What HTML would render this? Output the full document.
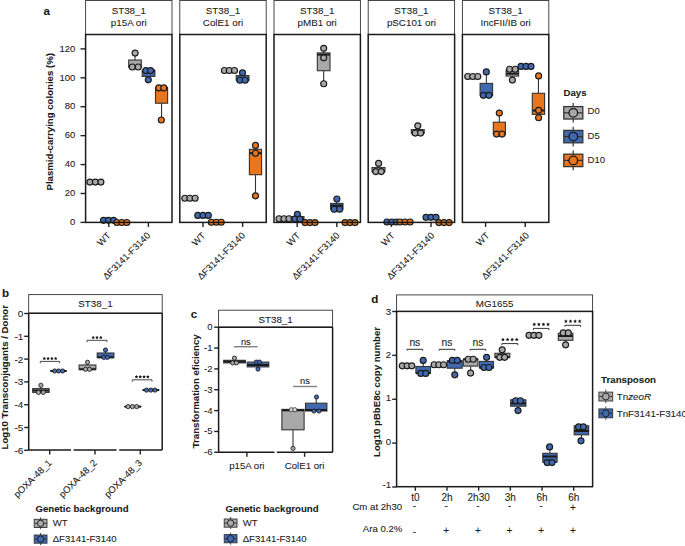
<!DOCTYPE html>
<html><head><meta charset="utf-8"><style>
html,body{margin:0;padding:0;background:#fff;width:685px;height:546px;overflow:hidden}
svg{display:block}
text{font-family:"Liberation Sans", sans-serif;stroke:#1a1a1a;stroke-width:0.08px}
</style></head><body>
<svg width="685" height="546" viewBox="0 0 685 546" font-family='"Liberation Sans", sans-serif'>
<rect x="0" y="0" width="685" height="546" fill="#fff"/>
<text x="43.6" y="15.2" font-size="11.6" text-anchor="start" font-weight="bold" fill="#1a1a1a" >a</text>
<rect x="85.6" y="0.5" width="86.4" height="34.0" fill="#fff" stroke="#333" stroke-width="0.9"/>
<text x="128.8" y="14.4" font-size="9.8" text-anchor="middle" font-weight="normal" fill="#1a1a1a" >ST38_1</text>
<text x="128.8" y="26.4" font-size="9.8" text-anchor="middle" font-weight="normal" fill="#1a1a1a" >p15A ori</text>
<line x1="108.8" y1="222.4" x2="108.8" y2="226.9" stroke="#222" stroke-width="1.4"/>
<line x1="148.39999999999998" y1="222.4" x2="148.39999999999998" y2="226.9" stroke="#222" stroke-width="1.4"/>
<text transform="translate(111.3,236.1) rotate(-45)" font-size="9.4" text-anchor="end" fill="#1a1a1a">WT</text>
<text transform="translate(150.89999999999998,236.1) rotate(-45)" font-size="9.4" text-anchor="end" fill="#1a1a1a">&#916;F3141-F3140</text>
<rect x="179.8" y="0.5" width="86.4" height="34.0" fill="#fff" stroke="#333" stroke-width="0.9"/>
<text x="223.0" y="14.4" font-size="9.8" text-anchor="middle" font-weight="normal" fill="#1a1a1a" >ST38_1</text>
<text x="223.0" y="26.4" font-size="9.8" text-anchor="middle" font-weight="normal" fill="#1a1a1a" >ColE1 ori</text>
<line x1="203.0" y1="222.4" x2="203.0" y2="226.9" stroke="#222" stroke-width="1.4"/>
<line x1="242.60000000000002" y1="222.4" x2="242.60000000000002" y2="226.9" stroke="#222" stroke-width="1.4"/>
<text transform="translate(206.0,236.1) rotate(-45)" font-size="9.4" text-anchor="end" fill="#1a1a1a">WT</text>
<text transform="translate(245.60000000000002,236.1) rotate(-45)" font-size="9.4" text-anchor="end" fill="#1a1a1a">&#916;F3141-F3140</text>
<rect x="274.0" y="0.5" width="86.4" height="34.0" fill="#fff" stroke="#333" stroke-width="0.9"/>
<text x="317.2" y="14.4" font-size="9.8" text-anchor="middle" font-weight="normal" fill="#1a1a1a" >ST38_1</text>
<text x="317.2" y="26.4" font-size="9.8" text-anchor="middle" font-weight="normal" fill="#1a1a1a" >pMB1 ori</text>
<line x1="297.2" y1="222.4" x2="297.2" y2="226.9" stroke="#222" stroke-width="1.4"/>
<line x1="336.8" y1="222.4" x2="336.8" y2="226.9" stroke="#222" stroke-width="1.4"/>
<text transform="translate(300.7,236.1) rotate(-45)" font-size="9.4" text-anchor="end" fill="#1a1a1a">WT</text>
<text transform="translate(340.3,236.1) rotate(-45)" font-size="9.4" text-anchor="end" fill="#1a1a1a">&#916;F3141-F3140</text>
<rect x="368.2" y="0.5" width="86.4" height="34.0" fill="#fff" stroke="#333" stroke-width="0.9"/>
<text x="411.4" y="14.4" font-size="9.8" text-anchor="middle" font-weight="normal" fill="#1a1a1a" >ST38_1</text>
<text x="411.4" y="26.4" font-size="9.8" text-anchor="middle" font-weight="normal" fill="#1a1a1a" >pSC101 ori</text>
<line x1="391.4" y1="222.4" x2="391.4" y2="226.9" stroke="#222" stroke-width="1.4"/>
<line x1="431.0" y1="222.4" x2="431.0" y2="226.9" stroke="#222" stroke-width="1.4"/>
<text transform="translate(395.4,236.1) rotate(-45)" font-size="9.4" text-anchor="end" fill="#1a1a1a">WT</text>
<text transform="translate(435.0,236.1) rotate(-45)" font-size="9.4" text-anchor="end" fill="#1a1a1a">&#916;F3141-F3140</text>
<rect x="462.4" y="0.5" width="86.4" height="34.0" fill="#fff" stroke="#333" stroke-width="0.9"/>
<text x="505.59999999999997" y="14.4" font-size="9.8" text-anchor="middle" font-weight="normal" fill="#1a1a1a" >ST38_1</text>
<text x="505.59999999999997" y="26.4" font-size="9.8" text-anchor="middle" font-weight="normal" fill="#1a1a1a" >IncFII/IB ori</text>
<line x1="485.59999999999997" y1="222.4" x2="485.59999999999997" y2="226.9" stroke="#222" stroke-width="1.4"/>
<line x1="525.1999999999999" y1="222.4" x2="525.1999999999999" y2="226.9" stroke="#222" stroke-width="1.4"/>
<text transform="translate(490.09999999999997,236.1) rotate(-45)" font-size="9.4" text-anchor="end" fill="#1a1a1a">WT</text>
<text transform="translate(529.6999999999999,236.1) rotate(-45)" font-size="9.4" text-anchor="end" fill="#1a1a1a">&#916;F3141-F3140</text>
<line x1="80.5" y1="222.4" x2="85.6" y2="222.4" stroke="#222" stroke-width="1.4"/>
<text x="75.3" y="225.1" font-size="9.5" text-anchor="end" font-weight="normal" fill="#1a1a1a" >0</text>
<line x1="80.5" y1="193.48000000000002" x2="85.6" y2="193.48000000000002" stroke="#222" stroke-width="1.4"/>
<text x="75.3" y="196.18" font-size="9.5" text-anchor="end" font-weight="normal" fill="#1a1a1a" >20</text>
<line x1="80.5" y1="164.56" x2="85.6" y2="164.56" stroke="#222" stroke-width="1.4"/>
<text x="75.3" y="167.26" font-size="9.5" text-anchor="end" font-weight="normal" fill="#1a1a1a" >40</text>
<line x1="80.5" y1="135.64000000000001" x2="85.6" y2="135.64000000000001" stroke="#222" stroke-width="1.4"/>
<text x="75.3" y="138.34" font-size="9.5" text-anchor="end" font-weight="normal" fill="#1a1a1a" >60</text>
<line x1="80.5" y1="106.72000000000001" x2="85.6" y2="106.72000000000001" stroke="#222" stroke-width="1.4"/>
<text x="75.3" y="109.42000000000002" font-size="9.5" text-anchor="end" font-weight="normal" fill="#1a1a1a" >80</text>
<line x1="80.5" y1="77.80000000000001" x2="85.6" y2="77.80000000000001" stroke="#222" stroke-width="1.4"/>
<text x="75.3" y="80.50000000000001" font-size="9.5" text-anchor="end" font-weight="normal" fill="#1a1a1a" >100</text>
<line x1="80.5" y1="48.880000000000024" x2="85.6" y2="48.880000000000024" stroke="#222" stroke-width="1.4"/>
<text x="75.3" y="51.58000000000003" font-size="9.5" text-anchor="end" font-weight="normal" fill="#1a1a1a" >120</text>
<text transform="translate(52.5,121.8) rotate(-90)" font-size="9.65" font-weight="bold" text-anchor="middle" fill="#1a1a1a">Plasmid-carrying colonies (%)</text>
<circle cx="89.9" cy="182.1" r="3.0" fill="#a9a9a9" stroke="#1a1a1a" stroke-width="1.15"/>
<circle cx="95.4" cy="182.1" r="3.0" fill="#a9a9a9" stroke="#1a1a1a" stroke-width="1.15"/>
<circle cx="100.9" cy="182.1" r="3.0" fill="#a9a9a9" stroke="#1a1a1a" stroke-width="1.15"/>
<circle cx="103.5" cy="220.3" r="3.0" fill="#4169b0" stroke="#1a1a1a" stroke-width="1.15"/>
<circle cx="108.4" cy="220.3" r="3.0" fill="#4169b0" stroke="#1a1a1a" stroke-width="1.15"/>
<circle cx="113.6" cy="220.3" r="3.0" fill="#4169b0" stroke="#1a1a1a" stroke-width="1.15"/>
<circle cx="116.9" cy="222.5" r="3.0" fill="#e8761e" stroke="#1a1a1a" stroke-width="1.15"/>
<circle cx="121.8" cy="222.5" r="3.0" fill="#e8761e" stroke="#1a1a1a" stroke-width="1.15"/>
<circle cx="126.8" cy="222.5" r="3.0" fill="#e8761e" stroke="#1a1a1a" stroke-width="1.15"/>
<line x1="135.0" y1="53.1" x2="135.0" y2="60" stroke="#333" stroke-width="1.1"/>
<rect x="128.7" y="60" width="12.600000000000023" height="7" fill="#a9a9a9" stroke="#333" stroke-width="1.1"/>
<line x1="128.7" y1="67" x2="141.3" y2="67" stroke="#1a1a1a" stroke-width="2.0"/>
<circle cx="135.1" cy="53.1" r="3.0" fill="#a9a9a9" stroke="#1a1a1a" stroke-width="1.15"/>
<circle cx="132.3" cy="67" r="3.0" fill="#a9a9a9" stroke="#1a1a1a" stroke-width="1.15"/>
<circle cx="138.2" cy="67" r="3.0" fill="#a9a9a9" stroke="#1a1a1a" stroke-width="1.15"/>
<line x1="148.55" y1="76.4" x2="148.55" y2="79.7" stroke="#333" stroke-width="1.1"/>
<rect x="142.2" y="70.4" width="12.700000000000017" height="6.0" fill="#4169b0" stroke="#333" stroke-width="1.1"/>
<line x1="142.2" y1="70.5" x2="154.9" y2="70.5" stroke="#1a1a1a" stroke-width="2.0"/>
<circle cx="145.9" cy="70.6" r="3.0" fill="#4169b0" stroke="#1a1a1a" stroke-width="1.15"/>
<circle cx="150.6" cy="70.6" r="3.0" fill="#4169b0" stroke="#1a1a1a" stroke-width="1.15"/>
<circle cx="148.3" cy="79.8" r="3.0" fill="#4169b0" stroke="#1a1a1a" stroke-width="1.15"/>
<line x1="161.55" y1="103.2" x2="161.55" y2="120" stroke="#333" stroke-width="1.1"/>
<rect x="155.5" y="87.5" width="12.099999999999994" height="15.700000000000003" fill="#e8761e" stroke="#333" stroke-width="1.1"/>
<line x1="155.5" y1="87.8" x2="167.6" y2="87.8" stroke="#1a1a1a" stroke-width="2.0"/>
<circle cx="158.8" cy="87.9" r="3.0" fill="#e8761e" stroke="#1a1a1a" stroke-width="1.15"/>
<circle cx="163.8" cy="87.9" r="3.0" fill="#e8761e" stroke="#1a1a1a" stroke-width="1.15"/>
<circle cx="161.3" cy="120" r="3.0" fill="#e8761e" stroke="#1a1a1a" stroke-width="1.15"/>
<circle cx="184.8" cy="198.2" r="3.0" fill="#a9a9a9" stroke="#1a1a1a" stroke-width="1.15"/>
<circle cx="189.9" cy="198.2" r="3.0" fill="#a9a9a9" stroke="#1a1a1a" stroke-width="1.15"/>
<circle cx="195.1" cy="198.2" r="3.0" fill="#a9a9a9" stroke="#1a1a1a" stroke-width="1.15"/>
<circle cx="197.8" cy="215.4" r="3.0" fill="#4169b0" stroke="#1a1a1a" stroke-width="1.15"/>
<circle cx="203" cy="215.4" r="3.0" fill="#4169b0" stroke="#1a1a1a" stroke-width="1.15"/>
<circle cx="208.3" cy="215.4" r="3.0" fill="#4169b0" stroke="#1a1a1a" stroke-width="1.15"/>
<circle cx="211.3" cy="222.2" r="3.0" fill="#e8761e" stroke="#1a1a1a" stroke-width="1.15"/>
<circle cx="216.3" cy="222.2" r="3.0" fill="#e8761e" stroke="#1a1a1a" stroke-width="1.15"/>
<circle cx="221.2" cy="222.2" r="3.0" fill="#e8761e" stroke="#1a1a1a" stroke-width="1.15"/>
<circle cx="224.4" cy="70.5" r="3.0" fill="#a9a9a9" stroke="#1a1a1a" stroke-width="1.15"/>
<circle cx="229.3" cy="70.5" r="3.0" fill="#a9a9a9" stroke="#1a1a1a" stroke-width="1.15"/>
<circle cx="234.5" cy="70.5" r="3.0" fill="#a9a9a9" stroke="#1a1a1a" stroke-width="1.15"/>
<line x1="242.6" y1="72.9" x2="242.6" y2="75.6" stroke="#333" stroke-width="1.1"/>
<rect x="236.2" y="75.6" width="12.800000000000011" height="4.700000000000003" fill="#4169b0" stroke="#333" stroke-width="1.1"/>
<line x1="236.2" y1="80.3" x2="249" y2="80.3" stroke="#1a1a1a" stroke-width="2.0"/>
<circle cx="242.5" cy="72.8" r="3.0" fill="#4169b0" stroke="#1a1a1a" stroke-width="1.15"/>
<circle cx="239.9" cy="80.2" r="3.0" fill="#4169b0" stroke="#1a1a1a" stroke-width="1.15"/>
<circle cx="245.1" cy="80.2" r="3.0" fill="#4169b0" stroke="#1a1a1a" stroke-width="1.15"/>
<line x1="255.5" y1="174.7" x2="255.5" y2="195.8" stroke="#333" stroke-width="1.1"/>
<rect x="249.4" y="149.3" width="12.200000000000017" height="25.399999999999977" fill="#e8761e" stroke="#333" stroke-width="1.1"/>
<line x1="249.4" y1="153.2" x2="261.6" y2="153.2" stroke="#1a1a1a" stroke-width="2.0"/>
<circle cx="255.5" cy="145.4" r="3.0" fill="#e8761e" stroke="#1a1a1a" stroke-width="1.15"/>
<circle cx="255.5" cy="153.2" r="3.0" fill="#e8761e" stroke="#1a1a1a" stroke-width="1.15"/>
<circle cx="255.5" cy="195.8" r="3.0" fill="#e8761e" stroke="#1a1a1a" stroke-width="1.15"/>
<circle cx="279" cy="218.7" r="3.0" fill="#a9a9a9" stroke="#1a1a1a" stroke-width="1.15"/>
<circle cx="284" cy="218.7" r="3.0" fill="#a9a9a9" stroke="#1a1a1a" stroke-width="1.15"/>
<circle cx="289" cy="218.7" r="3.0" fill="#a9a9a9" stroke="#1a1a1a" stroke-width="1.15"/>
<line x1="297.5" y1="214.3" x2="297.5" y2="216.6" stroke="#333" stroke-width="1.1"/>
<rect x="291" y="216.6" width="13" height="2.5" fill="#4169b0" stroke="#333" stroke-width="1.1"/>
<line x1="291" y1="219.1" x2="304" y2="219.1" stroke="#1a1a1a" stroke-width="2.0"/>
<circle cx="297.4" cy="214.3" r="3.0" fill="#4169b0" stroke="#1a1a1a" stroke-width="1.15"/>
<circle cx="294.8" cy="219.1" r="3.0" fill="#4169b0" stroke="#1a1a1a" stroke-width="1.15"/>
<circle cx="299.9" cy="219.1" r="3.0" fill="#4169b0" stroke="#1a1a1a" stroke-width="1.15"/>
<circle cx="305" cy="222.6" r="3.0" fill="#e8761e" stroke="#1a1a1a" stroke-width="1.15"/>
<circle cx="310" cy="222.6" r="3.0" fill="#e8761e" stroke="#1a1a1a" stroke-width="1.15"/>
<circle cx="315" cy="222.6" r="3.0" fill="#e8761e" stroke="#1a1a1a" stroke-width="1.15"/>
<line x1="323.65" y1="48.3" x2="323.65" y2="52.9" stroke="#333" stroke-width="1.1"/>
<line x1="323.65" y1="70.7" x2="323.65" y2="83.7" stroke="#333" stroke-width="1.1"/>
<rect x="317.3" y="52.9" width="12.699999999999989" height="17.800000000000004" fill="#a9a9a9" stroke="#333" stroke-width="1.1"/>
<line x1="317.3" y1="54.6" x2="330" y2="54.6" stroke="#1a1a1a" stroke-width="2.0"/>
<circle cx="323.7" cy="48.3" r="3.0" fill="#a9a9a9" stroke="#1a1a1a" stroke-width="1.15"/>
<circle cx="323.7" cy="57.8" r="3.0" fill="#a9a9a9" stroke="#1a1a1a" stroke-width="1.15"/>
<circle cx="323.7" cy="83.7" r="3.0" fill="#a9a9a9" stroke="#1a1a1a" stroke-width="1.15"/>
<line x1="336.8" y1="199" x2="336.8" y2="203.4" stroke="#333" stroke-width="1.1"/>
<rect x="330.6" y="203.4" width="12.399999999999977" height="5.799999999999983" fill="#4169b0" stroke="#333" stroke-width="1.1"/>
<line x1="330.6" y1="205.6" x2="343" y2="205.6" stroke="#1a1a1a" stroke-width="2.0"/>
<circle cx="336.9" cy="199" r="3.0" fill="#4169b0" stroke="#1a1a1a" stroke-width="1.15"/>
<circle cx="334.2" cy="209.2" r="3.0" fill="#4169b0" stroke="#1a1a1a" stroke-width="1.15"/>
<circle cx="339.6" cy="209.2" r="3.0" fill="#4169b0" stroke="#1a1a1a" stroke-width="1.15"/>
<circle cx="345" cy="222.6" r="3.0" fill="#e8761e" stroke="#1a1a1a" stroke-width="1.15"/>
<circle cx="350" cy="222.6" r="3.0" fill="#e8761e" stroke="#1a1a1a" stroke-width="1.15"/>
<circle cx="355" cy="222.6" r="3.0" fill="#e8761e" stroke="#1a1a1a" stroke-width="1.15"/>
<line x1="378.5" y1="163.4" x2="378.5" y2="167.6" stroke="#333" stroke-width="1.1"/>
<rect x="372" y="167.6" width="13" height="4.0" fill="#a9a9a9" stroke="#333" stroke-width="1.1"/>
<line x1="372" y1="171.6" x2="385" y2="171.6" stroke="#1a1a1a" stroke-width="2.0"/>
<circle cx="378.6" cy="163.4" r="3.0" fill="#a9a9a9" stroke="#1a1a1a" stroke-width="1.15"/>
<circle cx="375.8" cy="171.6" r="3.0" fill="#a9a9a9" stroke="#1a1a1a" stroke-width="1.15"/>
<circle cx="381.2" cy="171.6" r="3.0" fill="#a9a9a9" stroke="#1a1a1a" stroke-width="1.15"/>
<circle cx="386.9" cy="222.0" r="3.0" fill="#4169b0" stroke="#1a1a1a" stroke-width="1.15"/>
<circle cx="391.7" cy="222.0" r="3.0" fill="#4169b0" stroke="#1a1a1a" stroke-width="1.15"/>
<circle cx="396.4" cy="222.0" r="3.0" fill="#4169b0" stroke="#1a1a1a" stroke-width="1.15"/>
<circle cx="400" cy="222.0" r="3.0" fill="#e8761e" stroke="#1a1a1a" stroke-width="1.15"/>
<circle cx="405" cy="222.0" r="3.0" fill="#e8761e" stroke="#1a1a1a" stroke-width="1.15"/>
<circle cx="410.1" cy="222.0" r="3.0" fill="#e8761e" stroke="#1a1a1a" stroke-width="1.15"/>
<line x1="417.75" y1="125.8" x2="417.75" y2="129.6" stroke="#333" stroke-width="1.1"/>
<rect x="411.3" y="129.6" width="12.899999999999977" height="3.5" fill="#a9a9a9" stroke="#333" stroke-width="1.1"/>
<line x1="411.3" y1="133.1" x2="424.2" y2="133.1" stroke="#1a1a1a" stroke-width="2.0"/>
<circle cx="417.8" cy="125.8" r="3.0" fill="#a9a9a9" stroke="#1a1a1a" stroke-width="1.15"/>
<circle cx="415.2" cy="133.1" r="3.0" fill="#a9a9a9" stroke="#1a1a1a" stroke-width="1.15"/>
<circle cx="420.6" cy="133.1" r="3.0" fill="#a9a9a9" stroke="#1a1a1a" stroke-width="1.15"/>
<circle cx="426" cy="217.3" r="3.0" fill="#4169b0" stroke="#1a1a1a" stroke-width="1.15"/>
<circle cx="431" cy="217.3" r="3.0" fill="#4169b0" stroke="#1a1a1a" stroke-width="1.15"/>
<circle cx="436" cy="217.3" r="3.0" fill="#4169b0" stroke="#1a1a1a" stroke-width="1.15"/>
<circle cx="438.9" cy="222.6" r="3.0" fill="#e8761e" stroke="#1a1a1a" stroke-width="1.15"/>
<circle cx="444" cy="222.6" r="3.0" fill="#e8761e" stroke="#1a1a1a" stroke-width="1.15"/>
<circle cx="449.1" cy="222.6" r="3.0" fill="#e8761e" stroke="#1a1a1a" stroke-width="1.15"/>
<circle cx="467.7" cy="76.5" r="3.0" fill="#a9a9a9" stroke="#1a1a1a" stroke-width="1.15"/>
<circle cx="472.8" cy="76.5" r="3.0" fill="#a9a9a9" stroke="#1a1a1a" stroke-width="1.15"/>
<circle cx="477.8" cy="76.5" r="3.0" fill="#a9a9a9" stroke="#1a1a1a" stroke-width="1.15"/>
<line x1="486.35" y1="71.9" x2="486.35" y2="83.4" stroke="#333" stroke-width="1.1"/>
<rect x="480.1" y="83.4" width="12.5" height="12.099999999999994" fill="#4169b0" stroke="#333" stroke-width="1.1"/>
<line x1="480.1" y1="95.5" x2="492.6" y2="95.5" stroke="#1a1a1a" stroke-width="2.0"/>
<circle cx="486.3" cy="71.9" r="3.0" fill="#4169b0" stroke="#1a1a1a" stroke-width="1.15"/>
<circle cx="483.4" cy="95.3" r="3.0" fill="#4169b0" stroke="#1a1a1a" stroke-width="1.15"/>
<circle cx="488.9" cy="95.3" r="3.0" fill="#4169b0" stroke="#1a1a1a" stroke-width="1.15"/>
<line x1="499.35" y1="113.1" x2="499.35" y2="122.2" stroke="#333" stroke-width="1.1"/>
<rect x="493.3" y="122.2" width="12.099999999999966" height="12.200000000000003" fill="#e8761e" stroke="#333" stroke-width="1.1"/>
<line x1="493.3" y1="134.4" x2="505.4" y2="134.4" stroke="#1a1a1a" stroke-width="2.0"/>
<circle cx="499.3" cy="113.1" r="3.0" fill="#e8761e" stroke="#1a1a1a" stroke-width="1.15"/>
<circle cx="496.6" cy="134.1" r="3.0" fill="#e8761e" stroke="#1a1a1a" stroke-width="1.15"/>
<circle cx="502" cy="134.1" r="3.0" fill="#e8761e" stroke="#1a1a1a" stroke-width="1.15"/>
<line x1="512.35" y1="76.1" x2="512.35" y2="80.1" stroke="#333" stroke-width="1.1"/>
<rect x="506.1" y="70.0" width="12.5" height="6.099999999999994" fill="#a9a9a9" stroke="#333" stroke-width="1.1"/>
<line x1="506.1" y1="73.7" x2="518.6" y2="73.7" stroke="#1a1a1a" stroke-width="2.0"/>
<circle cx="509.6" cy="69.2" r="3.0" fill="#a9a9a9" stroke="#1a1a1a" stroke-width="1.15"/>
<circle cx="515.2" cy="69.2" r="3.0" fill="#a9a9a9" stroke="#1a1a1a" stroke-width="1.15"/>
<circle cx="512.4" cy="80.1" r="3.0" fill="#a9a9a9" stroke="#1a1a1a" stroke-width="1.15"/>
<circle cx="521" cy="66.4" r="3.0" fill="#4169b0" stroke="#1a1a1a" stroke-width="1.15"/>
<circle cx="526" cy="66.4" r="3.0" fill="#4169b0" stroke="#1a1a1a" stroke-width="1.15"/>
<circle cx="531" cy="66.4" r="3.0" fill="#4169b0" stroke="#1a1a1a" stroke-width="1.15"/>
<line x1="538.45" y1="75.9" x2="538.45" y2="93.3" stroke="#333" stroke-width="1.1"/>
<line x1="538.45" y1="114.4" x2="538.45" y2="117.7" stroke="#333" stroke-width="1.1"/>
<rect x="532.3" y="93.3" width="12.300000000000068" height="21.10000000000001" fill="#e8761e" stroke="#333" stroke-width="1.1"/>
<line x1="532.3" y1="110.5" x2="544.6" y2="110.5" stroke="#1a1a1a" stroke-width="2.0"/>
<circle cx="538.6" cy="75.9" r="3.0" fill="#e8761e" stroke="#1a1a1a" stroke-width="1.15"/>
<circle cx="538.6" cy="110.3" r="3.0" fill="#e8761e" stroke="#1a1a1a" stroke-width="1.15"/>
<circle cx="538.6" cy="117.7" r="3.0" fill="#e8761e" stroke="#1a1a1a" stroke-width="1.15"/>
<rect x="85.6" y="34.5" width="86.4" height="187.9" fill="none" stroke="#1a1a1a" stroke-width="1.5"/>
<rect x="179.8" y="34.5" width="86.4" height="187.9" fill="none" stroke="#1a1a1a" stroke-width="1.5"/>
<rect x="274.0" y="34.5" width="86.4" height="187.9" fill="none" stroke="#1a1a1a" stroke-width="1.5"/>
<rect x="368.2" y="34.5" width="86.4" height="187.9" fill="none" stroke="#1a1a1a" stroke-width="1.5"/>
<rect x="462.4" y="34.5" width="86.4" height="187.9" fill="none" stroke="#1a1a1a" stroke-width="1.5"/>
<text x="563.6" y="96.4" font-size="9.6" text-anchor="start" font-weight="bold" fill="#1a1a1a" >Days</text>
<line x1="573.2" y1="102.89999999999999" x2="573.2" y2="122.6" stroke="#333" stroke-width="1.2"/>
<rect x="563.8" y="106.6" width="19" height="12.4" fill="#a9a9a9" stroke="#333" stroke-width="1.3"/>
<line x1="563.8" y1="112.8" x2="582.8" y2="112.8" stroke="#333" stroke-width="1.2"/>
<circle cx="573.3" cy="112.8" r="4.3" fill="#a9a9a9" stroke="#1a1a1a" stroke-width="1.25"/>
<text x="587.6" y="114.1" font-size="9.5" text-anchor="start" font-weight="normal" fill="#1a1a1a" >D0</text>
<line x1="573.2" y1="126.7" x2="573.2" y2="146.4" stroke="#333" stroke-width="1.2"/>
<rect x="563.8" y="130.4" width="19" height="12.4" fill="#4169b0" stroke="#333" stroke-width="1.3"/>
<line x1="563.8" y1="136.6" x2="582.8" y2="136.6" stroke="#333" stroke-width="1.2"/>
<circle cx="573.3" cy="136.6" r="4.3" fill="#4169b0" stroke="#1a1a1a" stroke-width="1.25"/>
<text x="587.6" y="138.70000000000002" font-size="9.5" text-anchor="start" font-weight="normal" fill="#1a1a1a" >D5</text>
<line x1="573.2" y1="150.5" x2="573.2" y2="170.2" stroke="#333" stroke-width="1.2"/>
<rect x="563.8" y="154.2" width="19" height="12.4" fill="#e8761e" stroke="#333" stroke-width="1.3"/>
<line x1="563.8" y1="160.39999999999998" x2="582.8" y2="160.39999999999998" stroke="#333" stroke-width="1.2"/>
<circle cx="573.3" cy="160.39999999999998" r="4.3" fill="#e8761e" stroke="#1a1a1a" stroke-width="1.25"/>
<text x="587.6" y="163.3" font-size="9.5" text-anchor="start" font-weight="normal" fill="#1a1a1a" >D10</text>
<text x="1.9" y="297.3" font-size="11.6" text-anchor="start" font-weight="bold" fill="#1a1a1a" >b</text>
<rect x="28.7" y="294.6" width="133.5" height="18.69999999999999" fill="#fff" stroke="#333" stroke-width="0.9"/>
<text x="95.44999999999999" y="307.0" font-size="9.8" text-anchor="middle" font-weight="normal" fill="#1a1a1a" >ST38_1</text>
<line x1="24.2" y1="313.5" x2="28.7" y2="313.5" stroke="#222" stroke-width="1.4"/>
<text x="23.2" y="317.0" font-size="9.9" text-anchor="end" font-weight="normal" fill="#1a1a1a" >0</text>
<line x1="24.2" y1="336.3" x2="28.7" y2="336.3" stroke="#222" stroke-width="1.4"/>
<text x="23.2" y="339.8" font-size="9.9" text-anchor="end" font-weight="normal" fill="#1a1a1a" >-1</text>
<line x1="24.2" y1="359.1" x2="28.7" y2="359.1" stroke="#222" stroke-width="1.4"/>
<text x="23.2" y="362.6" font-size="9.9" text-anchor="end" font-weight="normal" fill="#1a1a1a" >-2</text>
<line x1="24.2" y1="381.9" x2="28.7" y2="381.9" stroke="#222" stroke-width="1.4"/>
<text x="23.2" y="385.4" font-size="9.9" text-anchor="end" font-weight="normal" fill="#1a1a1a" >-3</text>
<line x1="24.2" y1="404.7" x2="28.7" y2="404.7" stroke="#222" stroke-width="1.4"/>
<text x="23.2" y="408.2" font-size="9.9" text-anchor="end" font-weight="normal" fill="#1a1a1a" >-4</text>
<line x1="24.2" y1="427.5" x2="28.7" y2="427.5" stroke="#222" stroke-width="1.4"/>
<text x="23.2" y="431.0" font-size="9.9" text-anchor="end" font-weight="normal" fill="#1a1a1a" >-5</text>
<line x1="24.2" y1="450.3" x2="28.7" y2="450.3" stroke="#222" stroke-width="1.4"/>
<text x="23.2" y="453.8" font-size="9.9" text-anchor="end" font-weight="normal" fill="#1a1a1a" >-6</text>
<text transform="translate(7.6,377.3) rotate(-90)" font-size="9.65" font-weight="bold" text-anchor="middle" fill="#1a1a1a">Log10 Transconjugants / Donor</text>
<line x1="40.900000000000006" y1="385.3" x2="40.900000000000006" y2="388.6" stroke="#333" stroke-width="1.1"/>
<rect x="32.7" y="388.6" width="16.4" height="3.7999999999999545" fill="#a9a9a9" stroke="#333" stroke-width="1.1"/>
<line x1="32.7" y1="390.5" x2="49.1" y2="390.5" stroke="#1a1a1a" stroke-width="2.0"/>
<circle cx="40.9" cy="385.3" r="2.1" fill="#a9a9a9" stroke="#1a1a1a" stroke-width="0.85"/>
<circle cx="38.5" cy="392.4" r="2.1" fill="#a9a9a9" stroke="#1a1a1a" stroke-width="0.85"/>
<circle cx="43.3" cy="392.4" r="2.1" fill="#a9a9a9" stroke="#1a1a1a" stroke-width="0.85"/>
<rect x="50.5" y="371" width="16.0" height="0.01" fill="#4169b0" stroke="#333" stroke-width="1.1"/>
<line x1="50.5" y1="371" x2="66.5" y2="371" stroke="#1a1a1a" stroke-width="2.0"/>
<circle cx="54.6" cy="371" r="2.1" fill="#4169b0" stroke="#1a1a1a" stroke-width="0.85"/>
<circle cx="58.6" cy="371" r="2.1" fill="#4169b0" stroke="#1a1a1a" stroke-width="0.85"/>
<circle cx="62.6" cy="371" r="2.1" fill="#4169b0" stroke="#1a1a1a" stroke-width="0.85"/>
<line x1="87.5" y1="362.3" x2="87.5" y2="365" stroke="#333" stroke-width="1.1"/>
<rect x="79.1" y="365" width="16.80000000000001" height="4.300000000000011" fill="#a9a9a9" stroke="#333" stroke-width="1.1"/>
<line x1="79.1" y1="369.3" x2="95.9" y2="369.3" stroke="#1a1a1a" stroke-width="2.0"/>
<circle cx="87.5" cy="362.3" r="2.1" fill="#a9a9a9" stroke="#1a1a1a" stroke-width="0.85"/>
<circle cx="85.6" cy="369.3" r="2.1" fill="#a9a9a9" stroke="#1a1a1a" stroke-width="0.85"/>
<circle cx="89.5" cy="369.3" r="2.1" fill="#a9a9a9" stroke="#1a1a1a" stroke-width="0.85"/>
<line x1="105.55000000000001" y1="350" x2="105.55000000000001" y2="353" stroke="#333" stroke-width="1.1"/>
<rect x="97.2" y="353" width="16.700000000000003" height="4.399999999999977" fill="#4169b0" stroke="#333" stroke-width="1.1"/>
<line x1="97.2" y1="357.4" x2="113.9" y2="357.4" stroke="#1a1a1a" stroke-width="2.0"/>
<circle cx="105.5" cy="350" r="2.1" fill="#4169b0" stroke="#1a1a1a" stroke-width="0.85"/>
<circle cx="103.8" cy="357.4" r="2.1" fill="#4169b0" stroke="#1a1a1a" stroke-width="0.85"/>
<circle cx="107.3" cy="357.4" r="2.1" fill="#4169b0" stroke="#1a1a1a" stroke-width="0.85"/>
<rect x="124.6" y="406.6" width="16.400000000000006" height="0.01" fill="#a9a9a9" stroke="#333" stroke-width="1.1"/>
<line x1="124.6" y1="406.6" x2="141" y2="406.6" stroke="#1a1a1a" stroke-width="2.0"/>
<circle cx="128.1" cy="406.6" r="2.1" fill="#a9a9a9" stroke="#1a1a1a" stroke-width="0.85"/>
<circle cx="132.4" cy="406.6" r="2.1" fill="#a9a9a9" stroke="#1a1a1a" stroke-width="0.85"/>
<circle cx="136.7" cy="406.6" r="2.1" fill="#a9a9a9" stroke="#1a1a1a" stroke-width="0.85"/>
<rect x="142.8" y="390.1" width="16.19999999999999" height="0.01" fill="#4169b0" stroke="#333" stroke-width="1.1"/>
<line x1="142.8" y1="390.1" x2="159" y2="390.1" stroke="#1a1a1a" stroke-width="2.0"/>
<circle cx="146.5" cy="390.1" r="2.1" fill="#4169b0" stroke="#1a1a1a" stroke-width="0.85"/>
<circle cx="150.8" cy="390.1" r="2.1" fill="#4169b0" stroke="#1a1a1a" stroke-width="0.85"/>
<circle cx="155" cy="390.1" r="2.1" fill="#4169b0" stroke="#1a1a1a" stroke-width="0.85"/>
<polyline points="40.3,363.29999999999995 40.3,361.4 59.7,361.4 59.7,363.29999999999995" fill="none" stroke="#333" stroke-width="0.9"/>
<polygon points="44.30,356.70 44.88,357.70 46.01,357.94 45.24,358.81 45.36,359.96 44.30,359.49 43.24,359.96 43.36,358.81 42.59,357.94 43.72,357.70" fill="#1a1a1a"/>
<polygon points="48.10,356.70 48.68,357.70 49.81,357.94 49.04,358.81 49.16,359.96 48.10,359.49 47.04,359.96 47.16,358.81 46.39,357.94 47.52,357.70" fill="#1a1a1a"/>
<polygon points="51.90,356.70 52.48,357.70 53.61,357.94 52.84,358.81 52.96,359.96 51.90,359.49 50.84,359.96 50.96,358.81 50.19,357.94 51.32,357.70" fill="#1a1a1a"/>
<polygon points="55.70,356.70 56.28,357.70 57.41,357.94 56.64,358.81 56.76,359.96 55.70,359.49 54.64,359.96 54.76,358.81 53.99,357.94 55.12,357.70" fill="#1a1a1a"/>
<polyline points="87.1,342.2 87.1,340.3 106.9,340.3 106.9,342.2" fill="none" stroke="#333" stroke-width="0.9"/>
<polygon points="93.20,335.70 93.78,336.70 94.91,336.94 94.14,337.81 94.26,338.96 93.20,338.49 92.14,338.96 92.26,337.81 91.49,336.94 92.62,336.70" fill="#1a1a1a"/>
<polygon points="97.00,335.70 97.58,336.70 98.71,336.94 97.94,337.81 98.06,338.96 97.00,338.49 95.94,338.96 96.06,337.81 95.29,336.94 96.42,336.70" fill="#1a1a1a"/>
<polygon points="100.80,335.70 101.38,336.70 102.51,336.94 101.74,337.81 101.86,338.96 100.80,338.49 99.74,338.96 99.86,337.81 99.09,336.94 100.22,336.70" fill="#1a1a1a"/>
<polyline points="132.3,381.7 132.3,379.8 152,379.8 152,381.7" fill="none" stroke="#333" stroke-width="0.9"/>
<polygon points="136.45,375.10 137.03,376.10 138.16,376.34 137.39,377.21 137.51,378.36 136.45,377.89 135.39,378.36 135.51,377.21 134.74,376.34 135.87,376.10" fill="#1a1a1a"/>
<polygon points="140.25,375.10 140.83,376.10 141.96,376.34 141.19,377.21 141.31,378.36 140.25,377.89 139.19,378.36 139.31,377.21 138.54,376.34 139.67,376.10" fill="#1a1a1a"/>
<polygon points="144.05,375.10 144.63,376.10 145.76,376.34 144.99,377.21 145.11,378.36 144.05,377.89 142.99,378.36 143.11,377.21 142.34,376.34 143.47,376.10" fill="#1a1a1a"/>
<polygon points="147.85,375.10 148.43,376.10 149.56,376.34 148.79,377.21 148.91,378.36 147.85,377.89 146.79,378.36 146.91,377.21 146.14,376.34 147.27,376.10" fill="#1a1a1a"/>
<line x1="28.7" y1="313.3" x2="162.2" y2="313.3" stroke="#1a1a1a" stroke-width="1.5"/>
<line x1="28.7" y1="313.3" x2="28.7" y2="450" stroke="#1a1a1a" stroke-width="1.5"/>
<line x1="162.2" y1="313.3" x2="162.2" y2="450" stroke="#1a1a1a" stroke-width="1.5"/>
<line x1="28.7" y1="450" x2="71" y2="450" stroke="#1a1a1a" stroke-width="1.5"/>
<line x1="73.6" y1="450" x2="116.5" y2="450" stroke="#1a1a1a" stroke-width="1.5"/>
<line x1="119.2" y1="450" x2="162.2" y2="450" stroke="#1a1a1a" stroke-width="1.5"/>
<line x1="49.7" y1="450" x2="49.7" y2="454.5" stroke="#222" stroke-width="1.4"/>
<text transform="translate(52.2,463.5) rotate(-45)" font-size="9.4" text-anchor="end" fill="#1a1a1a">pOXA-48_1</text>
<line x1="95" y1="450" x2="95" y2="454.5" stroke="#222" stroke-width="1.4"/>
<text transform="translate(97.5,463.5) rotate(-45)" font-size="9.4" text-anchor="end" fill="#1a1a1a">pOXA-48_2</text>
<line x1="140.3" y1="450" x2="140.3" y2="454.5" stroke="#222" stroke-width="1.4"/>
<text transform="translate(142.8,463.5) rotate(-45)" font-size="9.4" text-anchor="end" fill="#1a1a1a">pOXA-48_3</text>
<text x="35.5" y="511.9" font-size="9.65" text-anchor="start" font-weight="bold" fill="#1a1a1a" >Genetic background</text>
<line x1="40.6" y1="517.3" x2="40.6" y2="529.3" stroke="#333" stroke-width="0.9"/>
<rect x="34.2" y="519.3" width="12.8" height="8.2" fill="#a9a9a9" stroke="#333" stroke-width="0.9"/>
<line x1="34.2" y1="523.4" x2="47.0" y2="523.4" stroke="#333" stroke-width="0.9"/>
<circle cx="40.6" cy="523.4" r="3.2" fill="#a9a9a9" stroke="#1a1a1a" stroke-width="0.9"/>
<text x="52.7" y="526.3" font-size="9.6" text-anchor="start" font-weight="normal" fill="#1a1a1a" >WT</text>
<line x1="40.6" y1="533.0" x2="40.6" y2="545.0" stroke="#333" stroke-width="0.9"/>
<rect x="34.2" y="535.0" width="12.8" height="8.2" fill="#4169b0" stroke="#333" stroke-width="0.9"/>
<line x1="34.2" y1="539.1" x2="47.0" y2="539.1" stroke="#333" stroke-width="0.9"/>
<circle cx="40.6" cy="539.1" r="3.2" fill="#4169b0" stroke="#1a1a1a" stroke-width="0.9"/>
<text x="52.7" y="542.0" font-size="9.6" text-anchor="start" font-weight="normal" fill="#1a1a1a" >&#916;F3141-F3140</text>
<text x="190.8" y="318" font-size="11.6" text-anchor="start" font-weight="bold" fill="#1a1a1a" >c</text>
<rect x="218.6" y="310.2" width="114.00000000000003" height="17.0" fill="#fff" stroke="#333" stroke-width="0.9"/>
<text x="275.6" y="322.9" font-size="9.8" text-anchor="middle" font-weight="normal" fill="#1a1a1a" >ST38_1</text>
<line x1="214.2" y1="327.2" x2="218.6" y2="327.2" stroke="#222" stroke-width="1.4"/>
<text x="212.5" y="330.09999999999997" font-size="9.5" text-anchor="end" font-weight="normal" fill="#1a1a1a" >0</text>
<line x1="214.2" y1="348.05" x2="218.6" y2="348.05" stroke="#222" stroke-width="1.4"/>
<text x="212.5" y="350.95" font-size="9.5" text-anchor="end" font-weight="normal" fill="#1a1a1a" >-1</text>
<line x1="214.2" y1="368.9" x2="218.6" y2="368.9" stroke="#222" stroke-width="1.4"/>
<text x="212.5" y="371.79999999999995" font-size="9.5" text-anchor="end" font-weight="normal" fill="#1a1a1a" >-2</text>
<line x1="214.2" y1="389.75" x2="218.6" y2="389.75" stroke="#222" stroke-width="1.4"/>
<text x="212.5" y="392.65" font-size="9.5" text-anchor="end" font-weight="normal" fill="#1a1a1a" >-3</text>
<line x1="214.2" y1="410.6" x2="218.6" y2="410.6" stroke="#222" stroke-width="1.4"/>
<text x="212.5" y="413.5" font-size="9.5" text-anchor="end" font-weight="normal" fill="#1a1a1a" >-4</text>
<line x1="214.2" y1="431.45" x2="218.6" y2="431.45" stroke="#222" stroke-width="1.4"/>
<text x="212.5" y="434.34999999999997" font-size="9.5" text-anchor="end" font-weight="normal" fill="#1a1a1a" >-5</text>
<line x1="214.2" y1="452.3" x2="218.6" y2="452.3" stroke="#222" stroke-width="1.4"/>
<text x="212.5" y="455.2" font-size="9.5" text-anchor="end" font-weight="normal" fill="#1a1a1a" >-6</text>
<text transform="translate(198.9,391.3) rotate(-90)" font-size="9.65" font-weight="bold" text-anchor="middle" fill="#1a1a1a">Transformation eficiency</text>
<line x1="234.55" y1="358.1" x2="234.55" y2="360.3" stroke="#333" stroke-width="1.1"/>
<rect x="223.7" y="360.3" width="21.700000000000017" height="2.599999999999966" fill="#a9a9a9" stroke="#333" stroke-width="1.1"/>
<line x1="223.7" y1="361.6" x2="245.4" y2="361.6" stroke="#1a1a1a" stroke-width="2.0"/>
<circle cx="234.5" cy="358.1" r="2.1" fill="#a9a9a9" stroke="#1a1a1a" stroke-width="0.85"/>
<circle cx="232.7" cy="362.9" r="2.1" fill="#a9a9a9" stroke="#1a1a1a" stroke-width="0.85"/>
<circle cx="236.4" cy="362.9" r="2.1" fill="#a9a9a9" stroke="#1a1a1a" stroke-width="0.85"/>
<line x1="258.0" y1="366.9" x2="258.0" y2="369.1" stroke="#333" stroke-width="1.1"/>
<rect x="247.2" y="362.1" width="21.600000000000023" height="4.7999999999999545" fill="#4169b0" stroke="#333" stroke-width="1.1"/>
<line x1="247.2" y1="365" x2="268.8" y2="365" stroke="#1a1a1a" stroke-width="2.0"/>
<circle cx="256.4" cy="362.1" r="2.1" fill="#4169b0" stroke="#1a1a1a" stroke-width="0.85"/>
<circle cx="259.5" cy="362.1" r="2.1" fill="#4169b0" stroke="#1a1a1a" stroke-width="0.85"/>
<circle cx="258" cy="369.1" r="2.1" fill="#4169b0" stroke="#1a1a1a" stroke-width="0.85"/>
<line x1="293.0" y1="429.8" x2="293.0" y2="448.4" stroke="#333" stroke-width="1.1"/>
<rect x="281.9" y="409.4" width="22.200000000000045" height="20.400000000000034" fill="#a9a9a9" stroke="#333" stroke-width="1.1"/>
<line x1="281.9" y1="410.3" x2="304.1" y2="410.3" stroke="#1a1a1a" stroke-width="2.0"/>
<circle cx="291.3" cy="409.7" r="2.1" fill="#d6d6d6" stroke="#444" stroke-width="0.85"/>
<circle cx="294.8" cy="409.7" r="2.1" fill="#d6d6d6" stroke="#444" stroke-width="0.85"/>
<circle cx="293" cy="448.4" r="2.1" fill="#a9a9a9" stroke="#1a1a1a" stroke-width="0.85"/>
<line x1="316.2" y1="397" x2="316.2" y2="403.2" stroke="#333" stroke-width="1.1"/>
<rect x="305.5" y="403.2" width="21.399999999999977" height="7.800000000000011" fill="#4169b0" stroke="#333" stroke-width="1.1"/>
<line x1="305.5" y1="410.0" x2="326.9" y2="410.0" stroke="#1a1a1a" stroke-width="2.0"/>
<circle cx="316.5" cy="397" r="2.1" fill="#4169b0" stroke="#1a1a1a" stroke-width="0.85"/>
<circle cx="314" cy="411" r="2.1" fill="#4169b0" stroke="#1a1a1a" stroke-width="0.85"/>
<circle cx="319" cy="411" r="2.1" fill="#4169b0" stroke="#1a1a1a" stroke-width="0.85"/>
<line x1="233.9" y1="346.7" x2="257.6" y2="346.7" stroke="#808080" stroke-width="1.4"/>
<text x="245.8" y="344.5" font-size="9.3" text-anchor="middle" font-weight="normal" fill="#1a1a1a" >ns</text>
<line x1="292.9" y1="386.5" x2="317" y2="386.5" stroke="#808080" stroke-width="1.4"/>
<text x="305" y="384.3" font-size="9.3" text-anchor="middle" font-weight="normal" fill="#1a1a1a" >ns</text>
<line x1="218.6" y1="327.2" x2="332.6" y2="327.2" stroke="#1a1a1a" stroke-width="1.5"/>
<line x1="218.6" y1="327.2" x2="218.6" y2="452.3" stroke="#1a1a1a" stroke-width="1.5"/>
<line x1="332.6" y1="327.2" x2="332.6" y2="452.3" stroke="#1a1a1a" stroke-width="1.5"/>
<line x1="218.6" y1="452.3" x2="274.5" y2="452.3" stroke="#1a1a1a" stroke-width="1.5"/>
<line x1="276.8" y1="452.3" x2="332.6" y2="452.3" stroke="#1a1a1a" stroke-width="1.5"/>
<line x1="246.9" y1="452.3" x2="246.9" y2="456.8" stroke="#222" stroke-width="1.4"/>
<text x="246.9" y="468.6" font-size="9.6" text-anchor="middle" font-weight="normal" fill="#1a1a1a" >p15A ori</text>
<line x1="304.6" y1="452.3" x2="304.6" y2="456.8" stroke="#222" stroke-width="1.4"/>
<text x="304.6" y="468.6" font-size="9.6" text-anchor="middle" font-weight="normal" fill="#1a1a1a" >ColE1 ori</text>
<text x="225.5" y="512.2" font-size="9.65" text-anchor="start" font-weight="bold" fill="#1a1a1a" >Genetic background</text>
<line x1="230.6" y1="517.0" x2="230.6" y2="529.0" stroke="#333" stroke-width="0.9"/>
<rect x="224.2" y="519.0" width="12.8" height="8.2" fill="#a9a9a9" stroke="#333" stroke-width="0.9"/>
<line x1="224.2" y1="523.1" x2="237.0" y2="523.1" stroke="#333" stroke-width="0.9"/>
<circle cx="230.6" cy="523.1" r="3.2" fill="#a9a9a9" stroke="#1a1a1a" stroke-width="0.9"/>
<text x="242.7" y="526.0" font-size="9.6" text-anchor="start" font-weight="normal" fill="#1a1a1a" >WT</text>
<line x1="230.6" y1="532.6" x2="230.6" y2="544.6" stroke="#333" stroke-width="0.9"/>
<rect x="224.2" y="534.6" width="12.8" height="8.2" fill="#4169b0" stroke="#333" stroke-width="0.9"/>
<line x1="224.2" y1="538.7" x2="237.0" y2="538.7" stroke="#333" stroke-width="0.9"/>
<circle cx="230.6" cy="538.7" r="3.2" fill="#4169b0" stroke="#1a1a1a" stroke-width="0.9"/>
<text x="242.7" y="541.6" font-size="9.6" text-anchor="start" font-weight="normal" fill="#1a1a1a" >&#916;F3141-F3140</text>
<text x="371.2" y="303" font-size="11.6" text-anchor="start" font-weight="bold" fill="#1a1a1a" >d</text>
<rect x="396.6" y="294.9" width="196.0" height="16.5" fill="#fff" stroke="#333" stroke-width="0.9"/>
<text x="494.6" y="307.4" font-size="9.8" text-anchor="middle" font-weight="normal" fill="#1a1a1a" >MG1655</text>
<line x1="392.2" y1="311.5" x2="396.6" y2="311.5" stroke="#222" stroke-width="1.4"/>
<text x="391.0" y="314.6" font-size="9.6" text-anchor="end" font-weight="normal" fill="#1a1a1a" >3</text>
<line x1="392.2" y1="355.37" x2="396.6" y2="355.37" stroke="#222" stroke-width="1.4"/>
<text x="391.0" y="358.02000000000004" font-size="9.6" text-anchor="end" font-weight="normal" fill="#1a1a1a" >2</text>
<line x1="392.2" y1="399.24" x2="396.6" y2="399.24" stroke="#222" stroke-width="1.4"/>
<text x="391.0" y="401.44000000000005" font-size="9.6" text-anchor="end" font-weight="normal" fill="#1a1a1a" >1</text>
<line x1="392.2" y1="443.11" x2="396.6" y2="443.11" stroke="#222" stroke-width="1.4"/>
<text x="391.0" y="444.86" font-size="9.6" text-anchor="end" font-weight="normal" fill="#1a1a1a" >0</text>
<line x1="392.2" y1="486.98" x2="396.6" y2="486.98" stroke="#222" stroke-width="1.4"/>
<text x="391.0" y="488.28000000000003" font-size="9.6" text-anchor="end" font-weight="normal" fill="#1a1a1a" >-1</text>
<text transform="translate(380.3,392) rotate(-90)" font-size="9.65" font-weight="bold" text-anchor="middle" fill="#1a1a1a">Log10 pBbE8c copy number</text>
<circle cx="402.3" cy="365.8" r="3.0" fill="#a9a9a9" stroke="#1a1a1a" stroke-width="1.15"/>
<circle cx="407.1" cy="365.8" r="3.0" fill="#a9a9a9" stroke="#1a1a1a" stroke-width="1.15"/>
<circle cx="411.8" cy="365.8" r="3.0" fill="#a9a9a9" stroke="#1a1a1a" stroke-width="1.15"/>
<line x1="423.2" y1="360.4" x2="423.2" y2="366.5" stroke="#333" stroke-width="1.1"/>
<rect x="415.9" y="366.5" width="14.600000000000023" height="6.699999999999989" fill="#4169b0" stroke="#333" stroke-width="1.1"/>
<line x1="415.9" y1="373.2" x2="430.5" y2="373.2" stroke="#1a1a1a" stroke-width="2.0"/>
<circle cx="423.2" cy="360.4" r="3.0" fill="#4169b0" stroke="#1a1a1a" stroke-width="1.15"/>
<circle cx="420.8" cy="373.4" r="3.0" fill="#4169b0" stroke="#1a1a1a" stroke-width="1.15"/>
<circle cx="425.7" cy="373.4" r="3.0" fill="#4169b0" stroke="#1a1a1a" stroke-width="1.15"/>
<circle cx="434.1" cy="364.7" r="3.0" fill="#a9a9a9" stroke="#1a1a1a" stroke-width="1.15"/>
<circle cx="438.8" cy="364.7" r="3.0" fill="#a9a9a9" stroke="#1a1a1a" stroke-width="1.15"/>
<circle cx="443.6" cy="364.7" r="3.0" fill="#a9a9a9" stroke="#1a1a1a" stroke-width="1.15"/>
<line x1="454.75" y1="368.2" x2="454.75" y2="374.8" stroke="#333" stroke-width="1.1"/>
<rect x="447.3" y="361" width="14.899999999999977" height="7.199999999999989" fill="#4169b0" stroke="#333" stroke-width="1.1"/>
<line x1="447.3" y1="361.2" x2="462.2" y2="361.2" stroke="#1a1a1a" stroke-width="2.0"/>
<circle cx="452.4" cy="360.4" r="3.0" fill="#4169b0" stroke="#1a1a1a" stroke-width="1.15"/>
<circle cx="457.3" cy="360.4" r="3.0" fill="#4169b0" stroke="#1a1a1a" stroke-width="1.15"/>
<circle cx="454.8" cy="374.8" r="3.0" fill="#4169b0" stroke="#1a1a1a" stroke-width="1.15"/>
<line x1="470.6" y1="366.1" x2="470.6" y2="373.1" stroke="#333" stroke-width="1.1"/>
<rect x="463.3" y="359.2" width="14.599999999999966" height="6.900000000000034" fill="#a9a9a9" stroke="#333" stroke-width="1.1"/>
<line x1="463.3" y1="359.2" x2="477.9" y2="359.2" stroke="#1a1a1a" stroke-width="2.0"/>
<circle cx="468.3" cy="359.2" r="3.0" fill="#a9a9a9" stroke="#1a1a1a" stroke-width="1.15"/>
<circle cx="473.2" cy="359.2" r="3.0" fill="#a9a9a9" stroke="#1a1a1a" stroke-width="1.15"/>
<circle cx="470.6" cy="373.1" r="3.0" fill="#a9a9a9" stroke="#1a1a1a" stroke-width="1.15"/>
<line x1="486.45" y1="357.3" x2="486.45" y2="361.4" stroke="#333" stroke-width="1.1"/>
<rect x="479.4" y="361.4" width="14.100000000000023" height="6.400000000000034" fill="#4169b0" stroke="#333" stroke-width="1.1"/>
<line x1="479.4" y1="367.8" x2="493.5" y2="367.8" stroke="#1a1a1a" stroke-width="2.0"/>
<circle cx="486.6" cy="357.3" r="3.0" fill="#4169b0" stroke="#1a1a1a" stroke-width="1.15"/>
<circle cx="484" cy="367.5" r="3.0" fill="#4169b0" stroke="#1a1a1a" stroke-width="1.15"/>
<circle cx="489" cy="367.5" r="3.0" fill="#4169b0" stroke="#1a1a1a" stroke-width="1.15"/>
<line x1="502.35" y1="349.8" x2="502.35" y2="353.3" stroke="#333" stroke-width="1.1"/>
<rect x="494.9" y="353.3" width="14.900000000000034" height="4.0" fill="#a9a9a9" stroke="#333" stroke-width="1.1"/>
<line x1="494.9" y1="357.3" x2="509.8" y2="357.3" stroke="#1a1a1a" stroke-width="2.0"/>
<circle cx="502.2" cy="349.8" r="3.0" fill="#a9a9a9" stroke="#1a1a1a" stroke-width="1.15"/>
<circle cx="499.7" cy="357.3" r="3.0" fill="#a9a9a9" stroke="#1a1a1a" stroke-width="1.15"/>
<circle cx="504.6" cy="357.3" r="3.0" fill="#a9a9a9" stroke="#1a1a1a" stroke-width="1.15"/>
<line x1="518.3" y1="406.2" x2="518.3" y2="410.6" stroke="#333" stroke-width="1.1"/>
<rect x="510.7" y="399.8" width="15.199999999999989" height="6.399999999999977" fill="#4169b0" stroke="#333" stroke-width="1.1"/>
<line x1="510.7" y1="403.4" x2="525.9" y2="403.4" stroke="#1a1a1a" stroke-width="2.0"/>
<circle cx="515.7" cy="400.7" r="3.0" fill="#4169b0" stroke="#1a1a1a" stroke-width="1.15"/>
<circle cx="520.4" cy="400.7" r="3.0" fill="#4169b0" stroke="#1a1a1a" stroke-width="1.15"/>
<circle cx="518" cy="410.6" r="3.0" fill="#4169b0" stroke="#1a1a1a" stroke-width="1.15"/>
<circle cx="529" cy="335.3" r="3.0" fill="#a9a9a9" stroke="#1a1a1a" stroke-width="1.15"/>
<circle cx="533.9" cy="335.3" r="3.0" fill="#a9a9a9" stroke="#1a1a1a" stroke-width="1.15"/>
<circle cx="538.9" cy="335.3" r="3.0" fill="#a9a9a9" stroke="#1a1a1a" stroke-width="1.15"/>
<line x1="549.95" y1="446.9" x2="549.95" y2="453.3" stroke="#333" stroke-width="1.1"/>
<rect x="542.8" y="453.3" width="14.300000000000068" height="9.0" fill="#4169b0" stroke="#333" stroke-width="1.1"/>
<line x1="542.8" y1="456.5" x2="557.1" y2="456.5" stroke="#1a1a1a" stroke-width="2.0"/>
<circle cx="549.6" cy="446.9" r="3.0" fill="#4169b0" stroke="#1a1a1a" stroke-width="1.15"/>
<circle cx="547.2" cy="462.6" r="3.0" fill="#4169b0" stroke="#1a1a1a" stroke-width="1.15"/>
<circle cx="552" cy="462.6" r="3.0" fill="#4169b0" stroke="#1a1a1a" stroke-width="1.15"/>
<line x1="565.5999999999999" y1="340.3" x2="565.5999999999999" y2="344.8" stroke="#333" stroke-width="1.1"/>
<rect x="558.3" y="333.3" width="14.600000000000023" height="7.0" fill="#a9a9a9" stroke="#333" stroke-width="1.1"/>
<line x1="558.3" y1="336.0" x2="572.9" y2="336.0" stroke="#1a1a1a" stroke-width="2.0"/>
<circle cx="563.2" cy="332.9" r="3.0" fill="#a9a9a9" stroke="#1a1a1a" stroke-width="1.15"/>
<circle cx="568.3" cy="332.9" r="3.0" fill="#a9a9a9" stroke="#1a1a1a" stroke-width="1.15"/>
<circle cx="565.6" cy="344.8" r="3.0" fill="#a9a9a9" stroke="#1a1a1a" stroke-width="1.15"/>
<line x1="581.45" y1="434.8" x2="581.45" y2="440.8" stroke="#333" stroke-width="1.1"/>
<rect x="574.2" y="425.8" width="14.5" height="9.0" fill="#4169b0" stroke="#333" stroke-width="1.1"/>
<line x1="574.2" y1="431.0" x2="588.7" y2="431.0" stroke="#1a1a1a" stroke-width="2.0"/>
<circle cx="578.6" cy="426.9" r="3.0" fill="#4169b0" stroke="#1a1a1a" stroke-width="1.15"/>
<circle cx="583.4" cy="426.9" r="3.0" fill="#4169b0" stroke="#1a1a1a" stroke-width="1.15"/>
<circle cx="581" cy="440.8" r="3.0" fill="#4169b0" stroke="#1a1a1a" stroke-width="1.15"/>
<polyline points="407,350.7 407,349.3 422.7,349.3 422.7,350.7" fill="none" stroke="#333" stroke-width="1"/>
<text x="414.85" y="345.8" font-size="10.3" text-anchor="middle" font-weight="normal" fill="#1a1a1a" >ns</text>
<polyline points="439.2,350.7 439.2,349.3 454.9,349.3 454.9,350.7" fill="none" stroke="#333" stroke-width="1"/>
<text x="447.04999999999995" y="345.8" font-size="10.3" text-anchor="middle" font-weight="normal" fill="#1a1a1a" >ns</text>
<polyline points="470.2,350.7 470.2,349.3 485.8,349.3 485.8,350.7" fill="none" stroke="#333" stroke-width="1"/>
<text x="478.0" y="345.8" font-size="10.3" text-anchor="middle" font-weight="normal" fill="#1a1a1a" >ns</text>
<polyline points="501.9,345.20000000000005 501.9,343.6 517.8,343.6 517.8,345.20000000000005" fill="none" stroke="#333" stroke-width="1"/>
<polygon points="502.95,337.65 503.52,338.81 504.80,339.00 503.88,339.90 504.10,341.18 502.95,340.58 501.80,341.18 502.02,339.90 501.10,339.00 502.38,338.81" fill="#1a1a1a"/>
<polygon points="507.55,337.65 508.12,338.81 509.40,339.00 508.48,339.90 508.70,341.18 507.55,340.58 506.40,341.18 506.62,339.90 505.70,339.00 506.98,338.81" fill="#1a1a1a"/>
<polygon points="512.15,337.65 512.72,338.81 514.00,339.00 513.08,339.90 513.30,341.18 512.15,340.58 511.00,341.18 511.22,339.90 510.30,339.00 511.58,338.81" fill="#1a1a1a"/>
<polygon points="516.75,337.65 517.32,338.81 518.60,339.00 517.68,339.90 517.90,341.18 516.75,340.58 515.60,341.18 515.82,339.90 514.90,339.00 516.18,338.81" fill="#1a1a1a"/>
<polyline points="533.4,330.0 533.4,328.4 548.9,328.4 548.9,330.0" fill="none" stroke="#333" stroke-width="1"/>
<polygon points="534.25,322.45 534.82,323.61 536.10,323.80 535.18,324.70 535.40,325.98 534.25,325.38 533.10,325.98 533.32,324.70 532.40,323.80 533.68,323.61" fill="#1a1a1a"/>
<polygon points="538.85,322.45 539.42,323.61 540.70,323.80 539.78,324.70 540.00,325.98 538.85,325.38 537.70,325.98 537.92,324.70 537.00,323.80 538.28,323.61" fill="#1a1a1a"/>
<polygon points="543.45,322.45 544.02,323.61 545.30,323.80 544.38,324.70 544.60,325.98 543.45,325.38 542.30,325.98 542.52,324.70 541.60,323.80 542.88,323.61" fill="#1a1a1a"/>
<polygon points="548.05,322.45 548.62,323.61 549.90,323.80 548.98,324.70 549.20,325.98 548.05,325.38 546.90,325.98 547.12,324.70 546.20,323.80 547.48,323.61" fill="#1a1a1a"/>
<polyline points="565,326.90000000000003 565,325.3 580.6,325.3 580.6,326.90000000000003" fill="none" stroke="#333" stroke-width="1"/>
<polygon points="565.90,319.35 566.47,320.51 567.75,320.70 566.83,321.60 567.05,322.88 565.90,322.28 564.75,322.88 564.97,321.60 564.05,320.70 565.33,320.51" fill="#1a1a1a"/>
<polygon points="570.50,319.35 571.07,320.51 572.35,320.70 571.43,321.60 571.65,322.88 570.50,322.28 569.35,322.88 569.57,321.60 568.65,320.70 569.93,320.51" fill="#1a1a1a"/>
<polygon points="575.10,319.35 575.67,320.51 576.95,320.70 576.03,321.60 576.25,322.88 575.10,322.28 573.95,322.88 574.17,321.60 573.25,320.70 574.53,320.51" fill="#1a1a1a"/>
<polygon points="579.70,319.35 580.27,320.51 581.55,320.70 580.63,321.60 580.85,322.88 579.70,322.28 578.55,322.88 578.77,321.60 577.85,320.70 579.13,320.51" fill="#1a1a1a"/>
<rect x="396.6" y="311.4" width="196.0" height="175.3" fill="none" stroke="#1a1a1a" stroke-width="1.5"/>
<line x1="415.3" y1="486.7" x2="415.3" y2="490.7" stroke="#222" stroke-width="1.4"/>
<text x="415.3" y="500.9" font-size="10" text-anchor="middle" font-weight="normal" fill="#1a1a1a" >t0</text>
<text x="414.5" y="509.3" font-size="10" text-anchor="middle" font-weight="normal" fill="#1a1a1a" >-</text>
<text x="414.5" y="534.7" font-size="10" text-anchor="middle" font-weight="normal" fill="#1a1a1a" >-</text>
<line x1="446.98" y1="486.7" x2="446.98" y2="490.7" stroke="#222" stroke-width="1.4"/>
<text x="446.98" y="500.9" font-size="10" text-anchor="middle" font-weight="normal" fill="#1a1a1a" >2h</text>
<text x="446.18" y="509.3" font-size="10" text-anchor="middle" font-weight="normal" fill="#1a1a1a" >-</text>
<text x="446.18" y="534.3" font-size="10" text-anchor="middle" font-weight="normal" fill="#1a1a1a" >+</text>
<line x1="478.66" y1="486.7" x2="478.66" y2="490.7" stroke="#222" stroke-width="1.4"/>
<text x="478.66" y="500.9" font-size="10" text-anchor="middle" font-weight="normal" fill="#1a1a1a" >2h30</text>
<text x="477.86" y="509.3" font-size="10" text-anchor="middle" font-weight="normal" fill="#1a1a1a" >-</text>
<text x="477.86" y="534.3" font-size="10" text-anchor="middle" font-weight="normal" fill="#1a1a1a" >+</text>
<line x1="510.34000000000003" y1="486.7" x2="510.34000000000003" y2="490.7" stroke="#222" stroke-width="1.4"/>
<text x="510.34000000000003" y="500.9" font-size="10" text-anchor="middle" font-weight="normal" fill="#1a1a1a" >3h</text>
<text x="509.54" y="509.3" font-size="10" text-anchor="middle" font-weight="normal" fill="#1a1a1a" >-</text>
<text x="509.54" y="534.3" font-size="10" text-anchor="middle" font-weight="normal" fill="#1a1a1a" >+</text>
<line x1="542.02" y1="486.7" x2="542.02" y2="490.7" stroke="#222" stroke-width="1.4"/>
<text x="542.02" y="500.9" font-size="10" text-anchor="middle" font-weight="normal" fill="#1a1a1a" >6h</text>
<text x="541.22" y="509.3" font-size="10" text-anchor="middle" font-weight="normal" fill="#1a1a1a" >-</text>
<text x="541.22" y="534.3" font-size="10" text-anchor="middle" font-weight="normal" fill="#1a1a1a" >+</text>
<line x1="573.7" y1="486.7" x2="573.7" y2="490.7" stroke="#222" stroke-width="1.4"/>
<text x="573.7" y="500.9" font-size="10" text-anchor="middle" font-weight="normal" fill="#1a1a1a" >6h</text>
<text x="572.9000000000001" y="510.8" font-size="10" text-anchor="middle" font-weight="normal" fill="#1a1a1a" >+</text>
<text x="572.9000000000001" y="534.3" font-size="10" text-anchor="middle" font-weight="normal" fill="#1a1a1a" >+</text>
<text x="402.2" y="510.2" font-size="9.65" text-anchor="end" font-weight="normal" fill="#1a1a1a" >Cm at 2h30</text>
<text x="402.3" y="532" font-size="9.6" text-anchor="end" font-weight="normal" fill="#1a1a1a" >Ara 0.2%</text>
<text x="601.1" y="383" font-size="9.7" text-anchor="start" font-weight="bold" fill="#1a1a1a" >Transposon</text>
<line x1="605.8" y1="389.70000000000005" x2="605.8" y2="403.1" stroke="#333" stroke-width="0.9"/>
<rect x="598.9" y="392.1" width="13.8" height="8.9" fill="#a9a9a9" stroke="#333" stroke-width="0.9"/>
<line x1="598.9" y1="396.55" x2="612.7" y2="396.55" stroke="#333" stroke-width="0.9"/>
<circle cx="605.8" cy="396.55" r="3.4" fill="#a9a9a9" stroke="#1a1a1a" stroke-width="0.9"/>
<text x="616.7" y="400.0" font-size="9.8" text-anchor="start" font-weight="normal" fill="#1a1a1a" >Tn<tspan font-style="italic">zeoR</tspan></text>
<line x1="605.8" y1="406.5" x2="605.8" y2="419.9" stroke="#333" stroke-width="0.9"/>
<rect x="598.9" y="408.9" width="13.8" height="8.9" fill="#4169b0" stroke="#333" stroke-width="0.9"/>
<line x1="598.9" y1="413.34999999999997" x2="612.7" y2="413.34999999999997" stroke="#333" stroke-width="0.9"/>
<circle cx="605.8" cy="413.34999999999997" r="3.4" fill="#4169b0" stroke="#1a1a1a" stroke-width="0.9"/>
<text x="616.7" y="416.79999999999995" font-size="9.8" text-anchor="start" font-weight="normal" fill="#1a1a1a" >TnF3141-F3140</text>
</svg></body></html>
